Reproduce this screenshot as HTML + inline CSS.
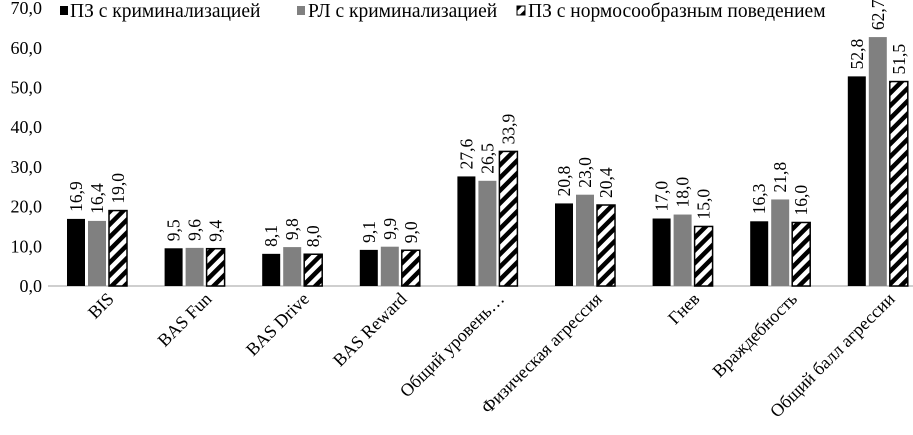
<!DOCTYPE html>
<html><head><meta charset="utf-8"><style>
body{margin:0;background:#fff;}
svg text{font-family:"Liberation Serif",serif;fill:#000;}
</style></head><body>
<svg id="c" width="913" height="430">
<defs><pattern id="hatch" patternUnits="userSpaceOnUse" width="9" height="9" patternTransform="rotate(45)">
<rect width="9" height="9" fill="#fff"/><rect width="4.5" height="9" fill="#000"/></pattern></defs>
</svg>
<script>
const categories=["BIS","BAS Fun","BAS Drive","BAS Reward","Общий уровень…","Физическая агрессия","Гнев","Враждебность","Общий балл агрессии"];
const seriesNames=["ПЗ с криминализацией","РЛ с криминализацией","ПЗ с нормосообразным поведением"];
const s1=[16.9,9.5,8.1,9.1,27.6,20.8,17.0,16.3,52.8];
const s2=[16.4,9.6,9.8,9.9,26.5,23.0,18.0,21.8,62.7];
const s3=[19.0,9.4,8.0,9.0,33.9,20.4,15.0,16.0,51.5];
const yTicks=[0,10,20,30,40,50,60,70];
const svg=document.getElementById('c');
const NS='http://www.w3.org/2000/svg';
const y0=286,pxPer=3.97;
const Y=v=>y0-v*pxPer;
const X=i=>97+i*97.6;
function el(t,a,txt){const e=document.createElementNS(NS,t);for(const k in a)e.setAttribute(k,a[k]);if(txt!==undefined)e.textContent=txt;svg.appendChild(e);return e;}
const fmt=v=>v.toFixed(1).replace('.',',');
yTicks.forEach(t=>{const e=el('text',{x:42,y:Y(t)+6,'text-anchor':'end','font-size':18},fmt(t));

});
const ax=el('line',{x1:48,y1:y0,x2:913,y2:y0,stroke:'#bfbfbf','stroke-width':1.5});


const series=[s1,s2,s3];const fills=['#000','#808080','url(#hatch)'];
categories.forEach((c,i)=>{
 series.forEach((s,j)=>{
  const cx=X(i)+(j-1)*21;const h=s[i]*pxPer;
  const r=el('rect',{x:cx-9,y:Y(s[i]),width:18,height:h,fill:fills[j],stroke:j==2?'#000':'none','stroke-width':1.5});
  
  
  const tx=cx+6,ty=Y(s[i])-7;
  const l=el('text',{x:tx,y:ty,'font-size':17.5,transform:`rotate(-90 ${tx} ${ty})`},fmt(s[i]));
  
  
 });
 const lx=X(i)+18,ly=300;
 const t=el('text',{x:lx,y:ly,'font-size':18,'text-anchor':'end',transform:`rotate(-45 ${lx} ${ly})`},c);
 
 
});
const lg=[[60,70],[297,308],[517,528]];
seriesNames.forEach((n,j)=>{
 const r=el('rect',{x:lg[j][0],y:6,width:8,height:9,fill:j==2?'url(#hatch)':fills[j],stroke:j==2?'#000':'none'});
 
 
 const t=el('text',{x:lg[j][1],y:17,'font-size':19.5},n);
 
 
});
</script>
</body></html>
